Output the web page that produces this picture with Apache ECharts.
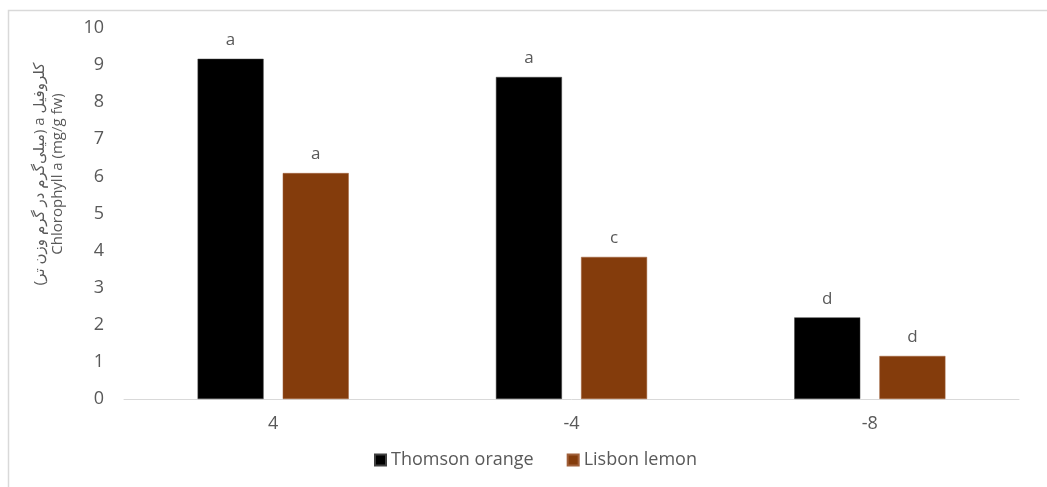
<!DOCTYPE html>
<html>
<head>
<meta charset="utf-8">
<script src="https://cdn.jsdelivr.net/npm/echarts@6/dist/echarts.min.js"></script>
<style>
  html, body { margin: 0; padding: 0; background: #ffffff; }
  #chart { width: 1047px; height: 487px; }
</style>
</head>
<body>
<div id="chart"></div>
<script>
// Temperature treatments (°C)
const categories = ['4', '-4', '-8'];
// Chlorophyll a (mg/g fw)
const thomsonValues = [9.17, 8.68, 2.20];
const lisbonValues = [6.09, 3.83, 1.16];
// Mean-comparison letters
const thomsonLetters = ['a', 'a', 'd'];
const lisbonLetters = ['a', 'c', 'd'];
const seriesNames = ['Thomson orange', 'Lisbon lemon'];
const yTicks = { min: 0, max: 10, interval: 1 };

const FONT = '"Open Sans", "DejaVu Sans", sans-serif';
const TEXT = '#595959';

const chart = echarts.init(document.getElementById('chart'), null, { renderer: 'canvas' });

function letterLabel(letters) {
  return {
    show: true,
    position: 'top',
    distance: 10,
    color: TEXT,
    fontFamily: FONT,
    fontSize: 17,
    formatter: p => letters[p.dataIndex]
  };
}

// Right-to-left embedding so the Persian line keeps its reading order
const RLE = '\u202B', PDF = '\u202C';

chart.setOption({
  animation: false,
  backgroundColor: '#ffffff',
  grid: { left: 124, right: 28, top: 28, bottom: 88, containLabel: false },
  graphic: [
    {
      type: 'rect',
      shape: { x: 8.5, y: 10.5, width: 1100, height: 600 },
      style: { fill: 'none', stroke: '#d9d9d9', lineWidth: 1.5 },
      silent: true
    },
    {
      type: 'text',
      x: 49, y: 174,
      rotation: Math.PI / 2,
      style: {
        text: RLE + 'کلروفیل a (میلی‌گرم در گرم وزن تر)' + PDF + '\nChlorophyll a (mg/g fw)',
        fill: TEXT,
        font: '15px ' + FONT,
        align: 'center',
        verticalAlign: 'middle',
        lineHeight: 18
      },
      silent: true
    }
  ],
  legend: {
    left: 369,
    top: 446,
    itemWidth: 11,
    itemHeight: 11,
    itemGap: 33,
    icon: 'rect',
    textStyle: { color: TEXT, fontFamily: FONT, fontSize: 18 },
    data: seriesNames
  },
  xAxis: {
    type: 'category',
    data: categories,
    axisLine: { show: true, lineStyle: { color: '#d9d9d9', width: 1 } },
    axisTick: { show: false },
    axisLabel: { color: TEXT, fontFamily: FONT, fontSize: 18, margin: 16 }
  },
  yAxis: {
    type: 'value',
    min: yTicks.min,
    max: yTicks.max,
    interval: yTicks.interval,
    axisLine: { show: false },
    axisTick: { show: false },
    splitLine: { show: false },
    axisLabel: { color: TEXT, fontFamily: FONT, fontSize: 18, margin: 20 }
  },
  series: [
    {
      name: seriesNames[0],
      type: 'bar',
      data: thomsonValues,
      barWidth: 66,
      barGap: '29%',
      itemStyle: { color: '#000000', borderColor: '#404040', borderWidth: 0.5 },
      label: letterLabel(thomsonLetters)
    },
    {
      name: seriesNames[1],
      type: 'bar',
      data: lisbonValues,
      barWidth: 66,
      barGap: '29%',
      itemStyle: { color: '#843C0C', borderColor: '#a0603a', borderWidth: 0.5 },
      label: letterLabel(lisbonLetters)
    }
  ]
});
</script>
</body>
</html>
